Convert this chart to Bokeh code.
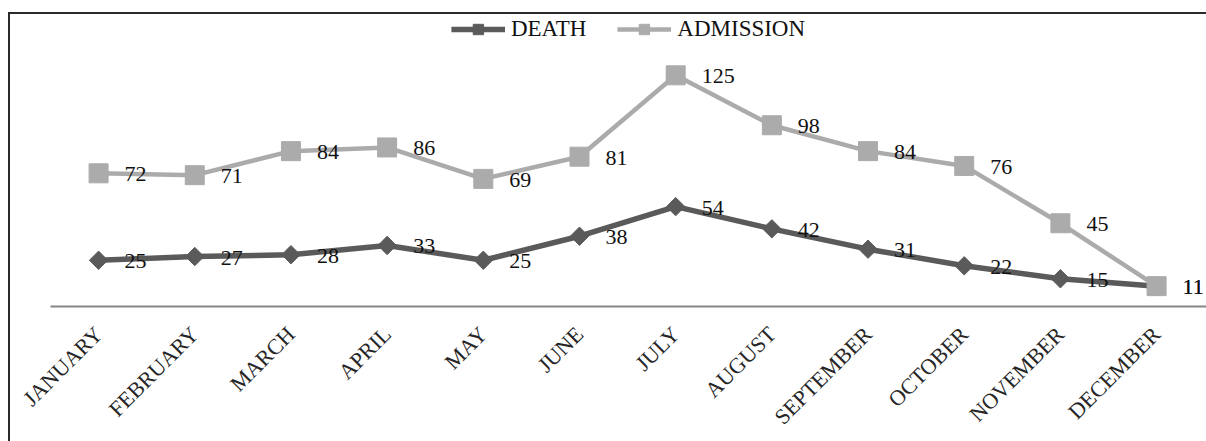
import math
from bokeh.plotting import figure
from bokeh.models import Range1d, FixedTicker, Legend, LegendItem, ColumnDataSource
from bokeh.core.properties import value
from bokeh.embed import file_html
from bokeh.resources import INLINE

months = ["JANUARY", "FEBRUARY", "MARCH", "APRIL", "MAY", "JUNE", "JULY",
          "AUGUST", "SEPTEMBER", "OCTOBER", "NOVEMBER", "DECEMBER"]
death = [25, 27, 28, 33, 25, 38, 54, 42, 31, 22, 15, 11]
admission = [72, 71, 84, 86, 69, 81, 125, 98, 84, 76, 45, 11]

FONT = "Liberation Serif"
DEATH_COLOR = "#5a5a5a"
ADM_COLOR = "#ababab"

xs = list(range(len(months)))
src = ColumnDataSource(dict(
    x=xs,
    death=death,
    admission=admission,
    death_txt=[str(v) for v in death],
    adm_txt=[str(v) for v in admission],
))

p = figure(
    frame_width=1156, frame_height=290,
    x_range=Range1d(-0.5, 11.519), y_range=Range1d(0, 156.8),
    output_backend="svg", toolbar_location=None,
    min_border_left=40, min_border_right=12, min_border_top=2, min_border_bottom=0,
    background_fill_color="white", border_fill_color="white",
    styles={"margin-left": "8px", "margin-top": "12px",
            "border-top": "2px solid #2a2a2a", "border-left": "2px solid #2a2a2a"},
)
p.outline_line_color = None
p.xgrid.visible = False
p.ygrid.visible = False
p.yaxis.visible = False

ax = p.xaxis[0]
ax.ticker = FixedTicker(ticks=xs)
ax.major_label_overrides = {i: m for i, m in enumerate(months)}
ax.major_label_orientation = math.pi / 4
ax.axis_line_color = "#868686"
ax.axis_line_width = 2
ax.major_tick_line_color = None
ax.minor_tick_line_color = None
ax.major_label_standoff = 18
ax.major_label_text_font = FONT
ax.major_label_text_font_size = "22px"
ax.major_label_text_color = "#262626"

r_dl = p.line("x", "death", source=src, line_color=DEATH_COLOR, line_width=5.5)
r_dm = p.scatter("x", "death", source=src, marker="square", angle=math.pi / 4,
                 size=13, fill_color=DEATH_COLOR, line_color=DEATH_COLOR)
r_al = p.line("x", "admission", source=src, line_color=ADM_COLOR, line_width=4.5)
r_am = p.scatter("x", "admission", source=src, marker="square", size=19,
                 fill_color=ADM_COLOR, line_color=ADM_COLOR)

for col, ycol in (("death_txt", "death"), ("adm_txt", "admission")):
    p.text("x", ycol, text=col, source=src, x_offset=26, y_offset=1,
           text_align="left", text_baseline="middle",
           text_font=value(FONT), text_font_size="22px", text_color="#111111")

legend = Legend(
    items=[LegendItem(label="DEATH", renderers=[r_dl, r_dm]),
           LegendItem(label="ADMISSION", renderers=[r_al, r_am])],
    location="top_center", orientation="horizontal",
    glyph_width=54, glyph_height=26, label_standoff=6, spacing=31,
    padding=0, margin=0, border_line_color=None, background_fill_alpha=0,
    label_text_font=FONT, label_text_font_size="23px", label_text_color="#111111",
)
p.add_layout(legend)

open("out.html", "w").write(file_html(p, INLINE))
